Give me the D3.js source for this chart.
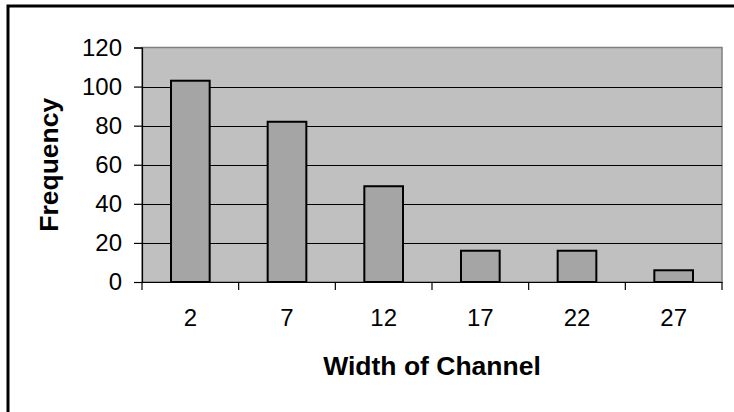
<!DOCTYPE html>
<html>
<head>
<meta charset="utf-8">
<script src="https://cdn.jsdelivr.net/npm/d3@7"></script>
<style>
  html, body { margin: 0; padding: 0; background: #fff; }
  svg { display: block; }
  text { font-family: "Liberation Sans", Arial, Helvetica, sans-serif; fill: #000; }
</style>
</head>
<body>
<svg id="chart" width="734" height="412"></svg>
<script>
const categories = ["2", "7", "12", "17", "22", "27"];
const frequencies = [103, 82, 49, 16, 16, 6];
const yTicks = [0, 20, 40, 60, 80, 100, 120];
const xTitle = "Width of Channel";
const yTitle = "Frequency";

const svg = d3.select("#chart");
const plot = { left: 142, right: 722, top: 47.5, bottom: 282 };

// outer frame (right/bottom edges run off the picture)
svg.append("rect")
  .attr("x", 8).attr("y", 6)
  .attr("width", 760).attr("height", 440)
  .attr("fill", "#fff").attr("stroke", "#000").attr("stroke-width", 3);

const x = d3.scaleBand().domain(categories).range([plot.left, plot.right]).padding(0);
const y = d3.scaleLinear().domain([0, 120]).range([plot.bottom, plot.top]);

// plot area background
svg.append("rect")
  .attr("x", plot.left).attr("y", plot.top)
  .attr("width", plot.right - plot.left).attr("height", plot.bottom - plot.top)
  .attr("fill", "#c0c0c0").attr("stroke", "#808080").attr("stroke-width", 1.5);

// gridlines
svg.append("g").selectAll("line")
  .data(yTicks.filter(d => d > 0 && d < 120))
  .join("line")
  .attr("x1", plot.left).attr("x2", plot.right)
  .attr("y1", d => Math.round(y(d)) + 0.5).attr("y2", d => Math.round(y(d)) + 0.5)
  .attr("stroke", "#000").attr("stroke-width", 1);

// bars
const bw = x.bandwidth() * 0.4;
svg.append("g").selectAll("rect")
  .data(frequencies)
  .join("rect")
  .attr("x", (d, i) => x(categories[i]) + (x.bandwidth() - bw) / 2)
  .attr("y", d => y(d))
  .attr("width", bw)
  .attr("height", d => y(0) - y(d))
  .attr("fill", "#a5a5a5")
  .attr("stroke", "#000").attr("stroke-width", 2);

// y axis
const yAxis = d3.axisLeft(y).tickValues(yTicks).tickSize(8).tickPadding(12).tickFormat(d3.format("d"));
const gy = svg.append("g").attr("transform", `translate(${plot.left},0)`).call(yAxis);
gy.select(".domain").attr("stroke", "#000").attr("stroke-width", 1.2);
gy.selectAll(".tick line").attr("stroke", "#000").attr("stroke-width", 1.2);
gy.selectAll(".tick text").attr("font-size", 24).attr("font-family", "Liberation Sans, Arial, sans-serif").attr("fill", "#000");

// x axis
const xAxis = d3.axisBottom(x).tickSize(0).tickPadding(27);
const gx = svg.append("g").attr("transform", `translate(0,${plot.bottom})`).call(xAxis);
gx.select(".domain").attr("stroke", "#000").attr("stroke-width", 1.2);
gx.selectAll(".tick text").attr("font-size", 24).attr("font-family", "Liberation Sans, Arial, sans-serif").attr("fill", "#000");
// category boundary ticks
const bounds = categories.map(c => x(c)).concat([x.range()[1]]);
gx.append("g").selectAll("line")
  .data(bounds)
  .join("line")
  .attr("x1", d => d).attr("x2", d => d)
  .attr("y1", 0).attr("y2", 8)
  .attr("stroke", "#000").attr("stroke-width", 1.2);

// titles
svg.append("text")
  .attr("x", (plot.left + plot.right) / 2).attr("y", 375)
  .attr("text-anchor", "middle")
  .attr("font-size", 26.5).attr("font-weight", "bold")
  .text(xTitle);

svg.append("text")
  .attr("transform", `translate(58,${(plot.top + plot.bottom) / 2}) rotate(-90)`)
  .attr("text-anchor", "middle")
  .attr("font-size", 26.5).attr("font-weight", "bold")
  .text(yTitle);
</script>
</body>
</html>
